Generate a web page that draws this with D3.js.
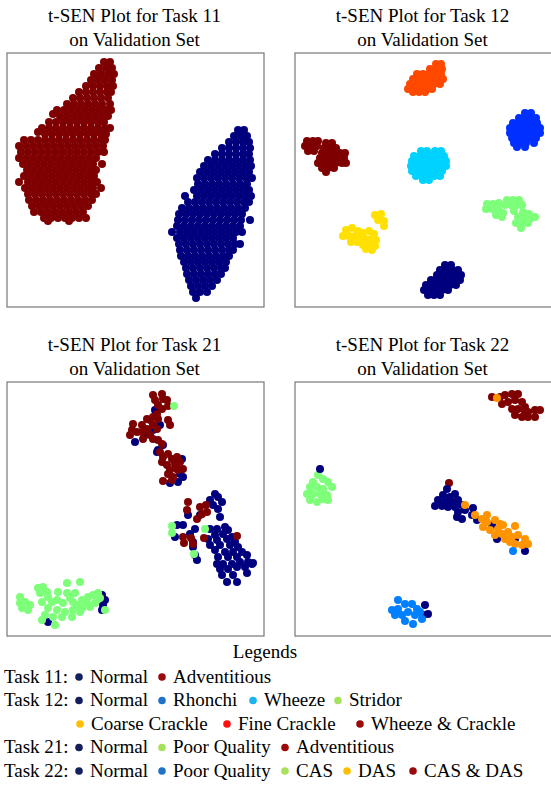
<!DOCTYPE html>
<html>
<head>
<meta charset="utf-8">
<style>
body { margin: 0; background: #fff; }
svg { display: block; }
text { font-family: 'Liberation Serif'; }
</style>
</head>
<body>
<svg width="551" height="785"></svg>
<script src="https://cdn.jsdelivr.net/npm/d3@7"></script>
<script>

// ---- data: 2-D embedding coordinates (panel units, x right, y down) ----
// dense clusters are written as rows: [y, x1, x2, ...]

var titles = [
  ["t-SEN Plot for Task 11", "on Validation Set"],
  ["t-SEN Plot for Task 12", "on Validation Set"],
  ["t-SEN Plot for Task 21", "on Validation Set"],
  ["t-SEN Plot for Task 22", "on Validation Set"]
];

// Task 11
var t11Adventitious = [
  [9, 97,103],
  [15, 92,99,105],
  [21, 87,94,101,107],
  [27, 84,91,98,105],
  [33, 79,86,93,100,106],
  [39, 72,79,86,93,100,104],
  [45, 66,73,80,87,94,101],
  [51, 60,67,74,81,88,95,103],
  [57, 50,57,64,71,78,85,92,99,104],
  [61, 46],
  [63, 53,60,67,74,81,88,95,101],
  [69, 42,49,56,63,70,77,84,91,97],
  [75, 35,42,49,56,63,70,77,84,91,98,103],
  [79, 31],
  [81, 38,45,52,59,66,73,80,87,94,99],
  [87, 17,24,31,38,45,52,59,66,73,80,87,94,98],
  [93, 12,19,26,33,40,47,54,61,68,75,82,89,96],
  [99, 14,21,28,35,42,49,56,63,70,77,84,91,97],
  [105, 12,19,26,33,40,47,54,61,68,75,82,89],
  [111, 16,23,30,37,44,51,58,65,72,79,86,95],
  [117, 20,27,34,41,48,55,62,69,76,83,89],
  [123, 17,24,31,38,45,52,59,66,73,80,87],
  [129, 12,21,28,35,42,49,56,63,70,77,84,90],
  [135, 18,25,32,39,46,53,60,67,74,81,86,94],
  [141, 21,28,35,42,49,56,63,70,77,84,89],
  [147, 22,29,36,43,50,57,64,71,78,85],
  [153, 25,32,39,46,53,60,67,74,81],
  [159, 27,34,41,48,55,62,69,76],
  [165, 37,44,51,58,65,72,79],
  [168, 41,62]
];
var t11Normal = [
  [77, 231,237],
  [83, 227,234,240],
  [89, 222,229,236,242],
  [95, 215,222,229,236,243],
  [101, 208,215,222,229,236,242],
  [107, 201,208,215,222,229,236,243],
  [113, 197,204,211,218,225,232,239,244],
  [119, 193,200,207,214,221,228,235,242],
  [125, 190,197,204,211,218,225,232,239,245],
  [131, 191,198,205,212,219,226,233,240],
  [137, 187,194,201,208,215,222,229,236,242],
  [143, 178,190,197,204,211,218,225,232,239,244],
  [149, 181,188,195,202,209,216,223,230,237,242],
  [155, 175,182,189,196,203,210,217,224,231,238],
  [161, 172,179,186,193,200,207,214,221,228,235],
  [167, 171,178,185,192,199,206,213,220,227,234,243],
  [173, 170,177,184,191,198,205,212,219,226,233],
  [179, 165,173,180,187,194,201,208,215,222,229,235],
  [185, 170,177,184,191,198,205,212,219,226],
  [191, 172,179,186,193,200,207,214,221,228,233],
  [197, 173,180,187,194,201,208,215,222,226],
  [203, 174,181,188,195,202,209,216,222],
  [209, 177,184,191,198,205,212,219],
  [215, 179,186,193,200,207,214,218],
  [221, 180,187,194,201,208,214],
  [227, 182,189,196,203,210],
  [233, 184,191,198,205],
  [239, 186,193,200],
  [245, 189]
];

// Task 12
var t12FineCrackle = [
  [11, 141,146],
  [16, 135,141,147],
  [21, 122,128,134,140,146],
  [26, 118,124,130,136,142,148],
  [31, 115,121,127,133,139,145],
  [36, 113,119,125,131,137],
  [39, 118,124,130]
];
var t12Rhonchi = [
  [60, 230,236],
  [65, 224,230,236,241],
  [70, 218,224,230,236,242],
  [75, 215,221,227,233,239,245],
  [80, 215,221,227,233,239,245],
  [85, 217,223,229,235,241],
  [90, 219,225,231,239],
  [94, 222,230]
];
var t12WheezeCrackle = [
  [88, 12,18,23],
  [90, 31,37],
  [93, 10,16,22],
  [95, 29,35,41],
  [98, 13,19],
  [100, 27,33,39,45,50],
  [105, 25,31,37,43,49],
  [110, 23,29,35,41,47,51],
  [115, 27,33,39],
  [119, 31]
];
var t12Wheeze = [
  [98, 126,132,140,146],
  [103, 119,125,131,137,143,149],
  [108, 117,123,129,135,141,147,151],
  [113, 116,122,128,134,140,146,151],
  [118, 117,123,129,135,141,147],
  [123, 121,127,133,139,145],
  [127, 128,134]
];
var t12Stridor = [
  [147, 212,218,224], [151, 192,198], [150, 204], [152, 210,216,222,227],
  [156, 191,197], [157, 203], [158, 219], [159, 228], [160, 208],
  [161, 234], [162, 201], [164, 207,223,240], [165, 229], [166, 235],
  [170, 221,233], [171, 227], [175, 226]
];
var t12CoarseCrackle = [
  [161, 86], [162, 80], [167, 83], [168, 89], [173, 89],
  [175, 57], [177, 51], [178, 63,74], [180, 68], [181, 79],
  [183, 48,54,60], [184, 66], [186, 70,76], [187, 81],
  [189, 56,62], [192, 68], [193, 74,80], [196, 71], [197, 77]
];
var t12Normal = [
  [212, 150,156],
  [217, 145,151,157,163],
  [222, 142,148,154,160,166],
  [227, 136,142,148,154,160,165],
  [232, 131,137,143,149,155,161],
  [237, 129,135,141,147,153],
  [242, 133,139,145]
];

// Task 21
var t21Normal = [
  [148,28],[153,43],[146,48],[138,53],[128,60],[156,63],[150,70],[175,77],
  [173,92],[176,95],[171,100],[163,101],[151,68],
  [208,112],[211,115],[203,118],[215,120],[206,123],[211,127],[213,135],
  [181,133],[193,133],[170,143],[176,143],[188,147],[183,152],[168,155],
  [186,165],[188,173],[190,178],[203,147],[210,147],[218,145],[221,148],
  [208,153],[216,152],[225,155],[201,157],[210,158],[220,157],[228,160],
  [203,163],[213,163],[223,163],[231,165],[208,168],[218,170],[226,170],
  [235,170],[211,175],[221,175],[230,175],[240,173],[210,182],[216,182],
  [225,182],[233,180],[241,180],[213,187],[221,187],[230,185],[238,185],
  [245,182],[186,160],[220,200],[230,200],[240,191],[246,181],[226,193],
  [215,193],
  [95,213],[98,218],[96,223],[95,228],[41,240]
];
var t21Adventitious = [
  [146,13],[155,12],[148,18],[156,17],[160,18],[151,23],[155,27],[161,24],
  [150,32],[146,35],[151,37],[143,38],[140,37],[161,38],[163,43],[126,42],
  [125,48],[130,50],[135,43],[135,50],[140,47],[143,53],[136,57],[146,57],
  [151,58],[155,62],[150,47],[146,43],[123,53],[153,70],[156,75],[161,72],
  [165,77],[170,75],[155,80],[168,82],[173,80],[176,87],[170,87],[163,88],
  [161,92],[166,95],[165,98],[156,99],[171,88],[160,83],
  [181,120],[180,128],[193,125],[199,123],[200,130],[195,132],[190,137],
  [176,155],[177,161],[184,156],[186,162],[197,156],[230,154]
];
var t21PoorQuality = [
  [167,24],[165,144],[165,151],[198,147],[187,172],
  [13,215],[13,221],[15,226],[21,228],[23,223],[31,206],[36,205],[33,211],
  [40,210],[41,215],[35,220],[45,220],[50,218],[51,210],[60,201],[73,200],
  [60,211],[68,211],[56,221],[66,220],[75,218],[81,215],[86,213],[91,211],
  [41,226],[50,228],[58,230],[66,228],[75,226],[83,225],[88,221],[80,221],
  [38,233],[46,235],[55,235],[65,235],[35,238],[48,243],[73,230],[90,218],
  [93,216],[98,228],[70,223],[63,216],[18,220]
];

// Task 22
var t22CasDas = [
  [197,15],[205,15],[210,13],[217,12],[223,12],[213,20],[220,18],[227,20],
  [207,22],[217,27],[223,27],[230,25],[233,30],[240,28],[245,28],[220,33],
  [227,35],[233,35],[240,35],[230,30],[154,101]
];
var t22Cas = [
  [23,93],[28,97],[33,100],[37,105],[18,100],[15,105],[22,105],[28,107],
  [12,112],[18,112],[25,112],[32,113],[15,118],[22,120],[28,117],[33,118]
];
var t22Normal = [
  [25,87],
  [152,107],[148,113],[155,115],[160,112],[143,118],[150,120],[157,120],
  [163,118],[140,124],[147,124],[153,125],[160,125],[167,123],[163,130],
  [170,128],[162,135],[167,137],[178,126],[182,138],[190,137],[197,143],
  [202,157],[220,157],[230,169],[177,133],
  [130,223],[133,232],[128,233]
];
var t22Das = [
  [202,16],
  [170,123],[180,133],[187,137],[192,140],[200,138],[188,145],[195,148],
  [203,147],[208,143],[200,153],[207,152],[213,150],[220,144],[210,157],
  [217,155],[223,153],[230,157],[220,162],[227,163],[233,162],[215,160],
  [192,133],[205,142]
];
var t22PoorQuality = [
  [103,218],[97,228],[103,227],[110,222],[117,222],[122,227],[100,233],
  [107,233],[113,230],[120,233],[110,239],[118,242],[127,237],[125,230],
  [218,169]
];

// colours
var cNavy = "#00007f", cRed = "#7f0000", cGreen = "#7dff7a";

// legend rows: label, [name, colour] pairs
var legendLabels = ["Task 11:", "Task 12:", "", "Task 21:", "Task 22:"];
var legendItems = [
  [["Normal", "#14205e"], ["Adventitious", "#9a0a0a"]],
  [["Normal", "#14205e"], ["Rhonchi", "#1f72c6"], ["Wheeze", "#1fb2ee"], ["Stridor", "#a6e05c"]],
  [["Coarse Crackle", "#ffbf00"], ["Fine Crackle", "#ff1010"], ["Wheeze & Crackle", "#9a0a0a"]],
  [["Normal", "#14205e"], ["Poor Quality", "#a6e05c"], ["Adventitious", "#9a0a0a"]],
  [["Normal", "#14205e"], ["Poor Quality", "#1f72c6"], ["CAS", "#a6e05c"], ["DAS", "#ffbf00"], ["CAS & DAS", "#9a0a0a"]]
];

// ---- helpers ----
function fromRows(rows) {
  var pts = [];
  rows.forEach(function(r) {
    for (var i = 1; i < r.length; i++) pts.push([r[i], r[0]]);
  });
  return pts;
}

var panelData = [
  [[fromRows(t11Adventitious), cRed], [fromRows(t11Normal), cNavy]],
  [[fromRows(t12FineCrackle), "#ff4800"], [fromRows(t12Rhonchi), "#0030ff"],
   [fromRows(t12WheezeCrackle), cRed], [fromRows(t12Wheeze), "#00d2ff"],
   [fromRows(t12Stridor), cGreen], [fromRows(t12CoarseCrackle), "#ffe000"],
   [fromRows(t12Normal), cNavy]],
  [[t21Normal, cNavy], [t21Adventitious, cRed], [t21PoorQuality, cGreen]],
  [[t22CasDas, cRed], [t22Cas, cGreen], [t22Normal, cNavy], [t22Das, "#ff9400"], [t22PoorQuality, "#0080ff"]]
];

var svg = d3.select("svg"),
    panelW = 257, panelH = 254,
    lefts = [7, 295, 7, 295],
    tops = [53, 53, 382, 382],
    // legend marker x positions, one row per legend line
    legendDotX = [[79, 162], [79, 162, 253, 338], [80, 227, 360], [79, 162, 285], [79, 162, 285, 347, 413]];

function label(sel, x, y, txt) {
  return sel.append("text")
    .attr("x", x).attr("y", y)
    .style("font-family", "'Liberation Serif'")
    .attr("font-size", 19)
    .text(txt);
}

panelData.forEach(function(groups, i) {
  var x = d3.scaleLinear().domain([0, panelW]).range([lefts[i], lefts[i] + panelW]),
      y = d3.scaleLinear().domain([0, panelH]).range([tops[i], tops[i] + panelH]);

  var g = svg.append("g");

  g.append("rect")
    .attr("x", x(0)).attr("y", y(0))
    .attr("width", panelW).attr("height", panelH)
    .attr("fill", "none")
    .attr("stroke", "#777")
    .attr("stroke-width", 1.2);

  titles[i].forEach(function(t, k) {
    label(g, x(panelW / 2) - 1, tops[i] - 31 + k * 23.5, t)
      .attr("text-anchor", "middle");
  });

  groups.forEach(function(grp) {
    g.append("g")
      .selectAll("circle")
      .data(grp[0])
      .enter().append("circle")
        .attr("cx", function(d) { return x(d[0]); })
        .attr("cy", function(d) { return y(d[1]); })
        .attr("r", 4)
        .attr("fill", grp[1]);
  });
});

// legend
var leg = svg.append("g");
label(leg, 265, 658, "Legends").attr("text-anchor", "middle");

legendItems.forEach(function(items, r) {
  var base = 682.5 + r * 23.5;
  if (legendLabels[r]) label(leg, 4, base, legendLabels[r]);
  items.forEach(function(it, k) {
    var cx = legendDotX[r][k];
    leg.append("circle")
      .attr("cx", cx).attr("cy", base - 5.5)
      .attr("r", 3.8)
      .attr("fill", it[1]);
    label(leg, cx + 11, base, it[0]);
  });
});

</script>
</body>
</html>
